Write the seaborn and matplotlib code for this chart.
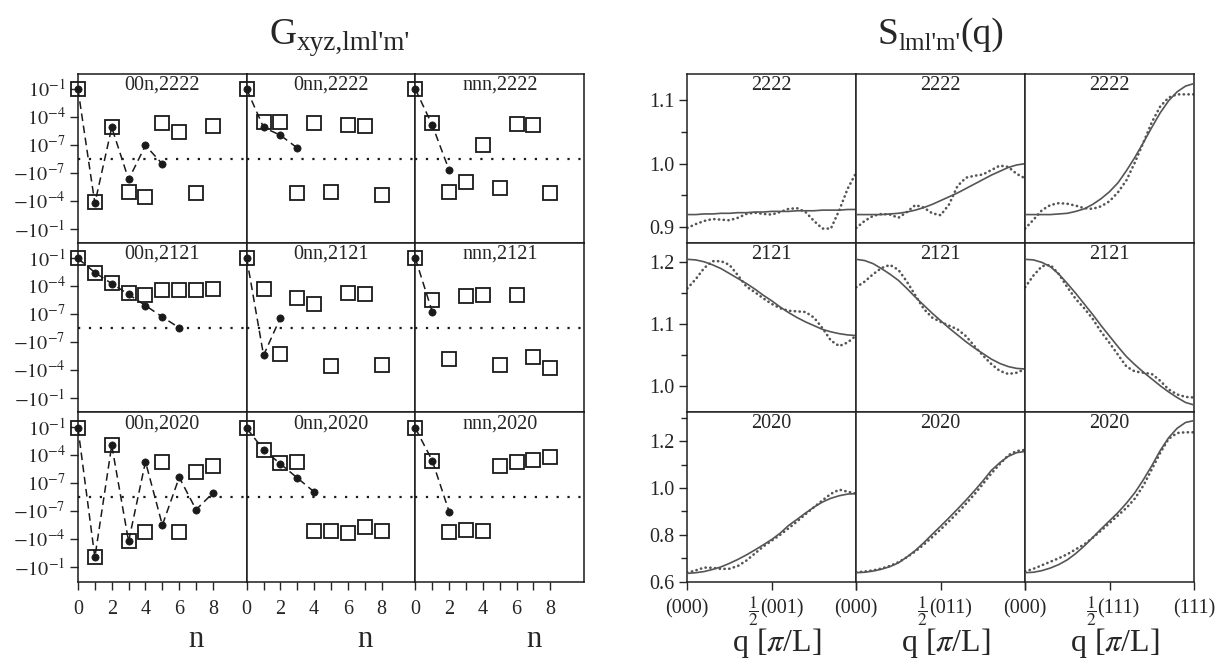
import numpy as np
import matplotlib
matplotlib.use('Agg')
import matplotlib.pyplot as plt
import matplotlib.transforms as mtransforms
import seaborn as sns

sns.set_theme(style='ticks')
plt.rcParams['font.family'] = ['Liberation Serif', 'DejaVu Serif']
plt.rcParams['mathtext.fontset'] = 'stix'
plt.rcParams['axes.linewidth'] = 1.1

# ---------------- data: left block (G values vs n) ----------------
n_vals = [0, 1, 2, 3, 4, 5, 6, 7, 8]
col_names = ['00n', '0nn', 'nnn']
row_names = ['2222', '2121', '2020']

# filled circles (connected by dashed line)
circ_00n_2222 = [8.3e-2, -2.0e-4, 6.9e-6, -5.4e-7, 8.1e-8, -1.2e-8]
circ_0nn_2222 = [8.3e-2, 6.9e-6, 1.0e-6, 4.3e-8]
circ_nnn_2222 = [8.3e-2, 1.2e-5, -5.4e-8]
circ_00n_2121 = [8.3e-2, 2.6e-3, 1.7e-4, 1.2e-5, 7.6e-7, 4.6e-8, 0.0]
circ_0nn_2121 = [8.3e-2, -2.8e-6, 3.9e-8]
circ_nnn_2121 = [8.3e-2, 1.6e-7]
circ_00n_2020 = [7.1e-2, -9.3e-3, 1.1e-3, -1.8e-4, 1.9e-5, -3.2e-6, 4.0e-7, -7.2e-8, 8.6e-9]
circ_0nn_2020 = [7.1e-2, 3.7e-4, 1.1e-5, 3.5e-7, 1.1e-8]
circ_nnn_2020 = [7.1e-2, 2.5e-5, -1.2e-7]

# open squares
sq_00n_2222 = [8.3e-2, -1.4e-4, 8.1e-6, -1.3e-5, -3.9e-5, 1.9e-5, 2.0e-6, -1.4e-5, 1.1e-5]
sq_0nn_2222 = [8.3e-2, 2.4e-5, 2.4e-5, -1.4e-5, 2.2e-5, -1.3e-5, 1.2e-5, 9.5e-6, -2.6e-5]
sq_nnn_2222 = [8.3e-2, 1.9e-5, -1.1e-5, -9.5e-7, 8.9e-8, -4.6e-6, 1.6e-5, 1.3e-5, -1.6e-5]
sq_00n_2121 = [8.3e-2, 2.6e-3, 2.0e-4, 1.9e-5, 1.1e-5, 3.5e-5, 3.3e-5, 3.3e-5, 5.0e-5]
sq_0nn_2121 = [8.3e-2, 5.0e-5, -2.2e-6, 5.5e-6, 1.0e-6, -3.9e-5, 1.5e-5, 1.2e-5, -2.8e-5]
sq_nnn_2121 = [8.3e-2, 2.8e-6, -6.3e-6, 7.6e-6, 1.1e-5, -3.2e-5, 9.5e-6, -4.6e-6, -6.9e-5]
sq_00n_2020 = [7.1e-2, -9.3e-3, 1.1e-3, -1.8e-4, -1.9e-5, 1.6e-5, -1.7e-5, 1.4e-6, 7.1e-6]
sq_0nn_2020 = [7.1e-2, 3.7e-4, 1.4e-5, 1.6e-5, -1.3e-5, -1.3e-5, -2.3e-5, -4.8e-6, -1.3e-5]
sq_nnn_2020 = [7.1e-2, 2.5e-5, -1.9e-5, -1.0e-5, -1.3e-5, 6.3e-6, 1.8e-5, 2.9e-5, 6.0e-5]

G_ytick_vals = [1e-1, 1e-4, 1e-7, -1e-7, -1e-4, -1e-1]
G_ytick_labels = [r'$10^{-1}$', r'$10^{-4}$', r'$10^{-7}$',
                  r'$-10^{-7}$', r'$-10^{-4}$', r'$-10^{-1}$']

# ---------------- data: right block (S(q)) ----------------
q = [0.0, 0.05, 0.1, 0.15, 0.2, 0.25, 0.3, 0.35, 0.4, 0.45, 0.5,
     0.55, 0.6, 0.65, 0.7, 0.75, 0.8, 0.85, 0.9, 0.95, 1.0]

S_solid_2222_001 = [0.920, 0.920, 0.921, 0.921, 0.922, 0.922, 0.923, 0.923, 0.924, 0.924, 0.925,
                    0.925, 0.925, 0.926, 0.926, 0.926, 0.927, 0.927, 0.927, 0.928, 0.928]
S_dot_2222_001 = [0.899, 0.905, 0.910, 0.913, 0.912, 0.911, 0.915, 0.921, 0.923, 0.921, 0.920,
                  0.924, 0.929, 0.930, 0.924, 0.910, 0.898, 0.898, 0.927, 0.961, 0.986]
S_solid_2222_011 = [0.920, 0.920, 0.920, 0.920, 0.921, 0.922, 0.924, 0.927, 0.931, 0.936, 0.942,
                    0.948, 0.954, 0.961, 0.968, 0.975, 0.982, 0.988, 0.994, 0.998, 1.000]
S_dot_2222_011 = [0.899, 0.910, 0.918, 0.921, 0.920, 0.915, 0.924, 0.935, 0.931, 0.922, 0.919,
                  0.936, 0.965, 0.978, 0.981, 0.983, 0.990, 0.997, 0.995, 0.984, 0.977]
S_solid_2222_111 = [0.920, 0.920, 0.920, 0.920, 0.921, 0.922, 0.925, 0.929, 0.936, 0.945, 0.956,
                    0.970, 0.989, 1.010, 1.033, 1.057, 1.080, 1.099, 1.113, 1.122, 1.126]
S_dot_2222_111 = [0.898, 0.912, 0.927, 0.935, 0.938, 0.937, 0.934, 0.930, 0.929, 0.933, 0.941,
                  0.955, 0.974, 1.002, 1.033, 1.065, 1.090, 1.104, 1.109, 1.109, 1.109]

S_solid_2121_001 = [1.204, 1.203, 1.200, 1.195, 1.189, 1.181, 1.173, 1.165, 1.156, 1.146, 1.137,
                    1.127, 1.118, 1.110, 1.103, 1.097, 1.091, 1.087, 1.084, 1.082, 1.081]
S_dot_2121_001 = [1.157, 1.172, 1.190, 1.201, 1.201, 1.195, 1.178, 1.160, 1.151, 1.141, 1.132,
                  1.125, 1.121, 1.120, 1.119, 1.110, 1.093, 1.073, 1.064, 1.070, 1.081]
S_solid_2121_011 = [1.204, 1.202, 1.197, 1.189, 1.180, 1.170, 1.157, 1.143, 1.130, 1.117, 1.105,
                    1.093, 1.082, 1.071, 1.061, 1.052, 1.043, 1.036, 1.031, 1.028, 1.027]
S_dot_2121_011 = [1.159, 1.168, 1.180, 1.190, 1.195, 1.187, 1.168, 1.146, 1.124, 1.110, 1.103,
                  1.097, 1.091, 1.080, 1.064, 1.049, 1.035, 1.024, 1.019, 1.021, 1.027]
S_solid_2121_111 = [1.204, 1.203, 1.199, 1.192, 1.180, 1.165, 1.149, 1.132, 1.115, 1.097, 1.080,
                    1.063, 1.047, 1.034, 1.022, 1.011, 1.000, 0.990, 0.981, 0.973, 0.969]
S_dot_2121_111 = [1.159, 1.178, 1.193, 1.195, 1.180, 1.159, 1.140, 1.125, 1.108, 1.087, 1.069,
                  1.050, 1.031, 1.023, 1.021, 1.019, 1.008, 0.994, 0.986, 0.982, 0.981]

S_solid_2020_001 = [0.635, 0.638, 0.643, 0.652, 0.663, 0.678, 0.695, 0.714, 0.735, 0.757, 0.780,
                    0.807, 0.840, 0.866, 0.893, 0.918, 0.940, 0.956, 0.967, 0.974, 0.976]
S_dot_2020_001 = [0.638, 0.648, 0.660, 0.659, 0.654, 0.655, 0.667, 0.690, 0.720, 0.750, 0.775,
                  0.800, 0.828, 0.857, 0.888, 0.918, 0.947, 0.975, 0.993, 0.984, 0.976]
S_solid_2020_011 = [0.638, 0.640, 0.645, 0.653, 0.664, 0.680, 0.705, 0.733, 0.766, 0.802, 0.837,
                    0.873, 0.910, 0.948, 0.988, 1.030, 1.075, 1.108, 1.135, 1.151, 1.156]
S_dot_2020_011 = [0.640, 0.643, 0.648, 0.656, 0.667, 0.683, 0.704, 0.729, 0.758, 0.790, 0.823,
                  0.858, 0.894, 0.933, 0.973, 1.017, 1.062, 1.102, 1.140, 1.158, 1.163]
S_solid_2020_111 = [0.638, 0.640, 0.647, 0.658, 0.673, 0.693, 0.720, 0.752, 0.788, 0.825, 0.860,
                    0.895, 0.935, 0.980, 1.035, 1.095, 1.160, 1.215, 1.255, 1.280, 1.288]
S_dot_2020_111 = [0.643, 0.655, 0.670, 0.685, 0.700, 0.717, 0.738, 0.759, 0.787, 0.818, 0.850,
                  0.883, 0.915, 0.955, 1.010, 1.080, 1.150, 1.210, 1.235, 1.238, 1.238]

S_ylims = {'2222': (0.875, 1.141), '2121': (0.957, 1.230), '2020': (0.600, 1.323)}
S_major = {'2222': [0.9, 1.0, 1.1], '2121': [1.0, 1.1, 1.2], '2020': [0.6, 0.8, 1.0, 1.2]}
S_minor = {'2222': [0.95, 1.05], '2121': [1.05, 1.15], '2020': [0.7, 0.9, 1.1, 1.3]}
S_ticks = [0.0, 0.5, 1.0]
S_end_labels = [['(000)', '(000)'], ['', '(000)'], ['', '(111)']]
S_half_labels = ['(001)', '(011)', '(111)']

G_circ = {('00n', '2222'): circ_00n_2222, ('0nn', '2222'): circ_0nn_2222, ('nnn', '2222'): circ_nnn_2222,
          ('00n', '2121'): circ_00n_2121, ('0nn', '2121'): circ_0nn_2121, ('nnn', '2121'): circ_nnn_2121,
          ('00n', '2020'): circ_00n_2020, ('0nn', '2020'): circ_0nn_2020, ('nnn', '2020'): circ_nnn_2020}
G_sq = {('00n', '2222'): sq_00n_2222, ('0nn', '2222'): sq_0nn_2222, ('nnn', '2222'): sq_nnn_2222,
        ('00n', '2121'): sq_00n_2121, ('0nn', '2121'): sq_0nn_2121, ('nnn', '2121'): sq_nnn_2121,
        ('00n', '2020'): sq_00n_2020, ('0nn', '2020'): sq_0nn_2020, ('nnn', '2020'): sq_nnn_2020}
S_solid = {('2222', 0): S_solid_2222_001, ('2222', 1): S_solid_2222_011, ('2222', 2): S_solid_2222_111,
           ('2121', 0): S_solid_2121_001, ('2121', 1): S_solid_2121_011, ('2121', 2): S_solid_2121_111,
           ('2020', 0): S_solid_2020_001, ('2020', 1): S_solid_2020_011, ('2020', 2): S_solid_2020_111}
S_dot = {('2222', 0): S_dot_2222_001, ('2222', 1): S_dot_2222_011, ('2222', 2): S_dot_2222_111,
         ('2121', 0): S_dot_2121_001, ('2121', 1): S_dot_2121_011, ('2121', 2): S_dot_2121_111,
         ('2020', 0): S_dot_2020_001, ('2020', 1): S_dot_2020_011, ('2020', 2): S_dot_2020_111}

# ---------------- layout ----------------
W, H = 1224, 671
fig = plt.figure(figsize=(W / 100, H / 100), dpi=100)
fig.patch.set_facecolor('white')


def rect(x0, y0, w, h):
    return [x0 / W, 1 - (y0 + h) / H, w / W, h / H]


left_x = [78.0, 246.7, 415.4]
left_w = 168.7
right_x = [687.3, 856.2, 1025.1]
right_w = 168.9
row_y = [74.0, 243.2, 412.4]
row_h = 169.2

TICK_FS = 14.5
LAB_FS = 14.5
GRAY = '#555555'

for r, rn in enumerate(row_names):
    for c, cn in enumerate(col_names):
        ax = fig.add_axes(rect(left_x[c], row_y[r], left_w, row_h))
        ax.set_yscale('symlog', linthresh=1e-8, linscale=0.45)
        ax.set_xlim(0, 10)
        ax.set_ylim(-3.6, 3.6)
        ax.axhline(0, color='k', lw=1.6, linestyle=(0, (1, 3.9)), zorder=1)
        sq = G_sq[(cn, rn)]
        sns.lineplot(x=n_vals[:len(sq)], y=sq, ax=ax, linestyle='none', marker='s',
                     markersize=9.5, markerfacecolor='none', markeredgecolor='k',
                     markeredgewidth=1.3, color='k', clip_on=False, zorder=3)
        ci = G_circ[(cn, rn)]
        sns.lineplot(x=n_vals[:len(ci)], y=ci, ax=ax, color='k', lw=1.1,
                     linestyle=(0, (5, 3)), marker='o', markersize=5.2,
                     markerfacecolor='k', markeredgecolor='k', markeredgewidth=0.5,
                     clip_on=False, zorder=4)
        ax.text(0.5, 0.99, f'{cn},{rn}', transform=ax.transAxes, ha='center', va='top',
                fontsize=LAB_FS)
        ax.set_xticks(n_vals)
        if r == 2:
            ax.set_xticklabels([str(v) if v % 2 == 0 else '' for v in n_vals], fontsize=TICK_FS)
            ax.tick_params(axis='x', direction='out', length=6, width=1.0, pad=7)
            ax.text(0.70, -0.345, 'n', transform=ax.transAxes, ha='center', va='center',
                    fontsize=22)
        else:
            ax.tick_params(axis='x', bottom=False, labelbottom=False)
        ax.set_yticks(G_ytick_vals)
        ax.yaxis.set_minor_locator(matplotlib.ticker.NullLocator())
        if c == 0:
            ax.set_yticklabels(G_ytick_labels, fontsize=TICK_FS)
            ax.tick_params(axis='y', direction='out', length=6, width=1.0, pad=3)
        else:
            ax.tick_params(axis='y', left=False, labelleft=False)
        ax.set_xlabel('')
        ax.set_ylabel('')
        for s in ax.spines.values():
            s.set_color('k')
            s.set_linewidth(1.1)

LABEL_BASE = -0.19   # baseline of the q tick labels, in axes fraction
for r, rn in enumerate(row_names):
    for c in range(3):
        ax = fig.add_axes(rect(right_x[c], row_y[r], right_w, row_h))
        ax.set_xlim(0, 1)
        ax.set_ylim(*S_ylims[rn])
        sns.lineplot(x=q, y=S_solid[(rn, c)], ax=ax, color=GRAY, lw=1.2, zorder=3)
        sns.lineplot(x=q, y=S_dot[(rn, c)], ax=ax, color=GRAY, lw=1.9,
                     linestyle=(0, (0.1, 1.7)), dash_capstyle='round', zorder=2)
        ax.text(0.5, 0.99, rn, transform=ax.transAxes, ha='center', va='top',
                fontsize=LAB_FS)
        ax.set_yticks(S_major[rn])
        ax.set_yticks(S_minor[rn], minor=True)
        if c == 0:
            ax.set_yticklabels([f'{v:.1f}' for v in S_major[rn]], fontsize=TICK_FS)
            ax.tick_params(axis='y', which='major', direction='out', length=6, width=1.0, pad=3)
            ax.tick_params(axis='y', which='minor', direction='out', length=4, width=1.0)
        else:
            ax.tick_params(axis='y', which='both', left=False, labelleft=False)
        ax.set_xticks(S_ticks)
        ax.set_xticklabels([])
        if r == 2:
            ax.tick_params(axis='x', direction='out', length=6, width=1.0)
            tr = ax.get_xaxis_transform()
            for xv, lab in zip([S_ticks[0], S_ticks[2]], S_end_labels[c]):
                if lab:
                    ax.text(xv, LABEL_BASE, lab, transform=tr, ha='center', va='baseline',
                            fontsize=TICK_FS, clip_on=False)
            tr_l = mtransforms.offset_copy(tr, fig=fig, x=-12, y=0, units='dots')
            tr_f = mtransforms.offset_copy(tr, fig=fig, x=-13, y=-1, units='dots')
            ax.text(S_ticks[1], LABEL_BASE, S_half_labels[c], transform=tr_l, ha='left',
                    va='baseline', fontsize=TICK_FS, clip_on=False)
            ax.text(S_ticks[1], LABEL_BASE, r'$\dfrac{1}{2}$', transform=tr_f, ha='right',
                    va='baseline', fontsize=12.5, clip_on=False)
            ax.text(0.53, -0.365, r'q [$\pi$/L]', transform=ax.transAxes, ha='center',
                    va='center', fontsize=23)
        else:
            ax.tick_params(axis='x', bottom=False, labelbottom=False)
        ax.set_xlabel('')
        ax.set_ylabel('')
        for s in ax.spines.values():
            s.set_color('#222222')
            s.set_linewidth(1.1)


# titles built from pieces (main letter + subscript) so apostrophes stay straight
def compound_title(cx, base_y, pieces):
    renderer = fig.canvas.get_renderer()
    texts = []
    total = 0.0
    for s, fs, dy in pieces:
        t = fig.text(0, 0, s, fontsize=fs, ha='left', va='baseline')
        w = t.get_window_extent(renderer=renderer).width
        texts.append((t, w, dy))
        total += w
    x = cx - total / 2
    for t, w, dy in texts:
        t.set_position((x / W, 1 - (base_y + dy) / H))
        x += w


compound_title(340, 44, [('G', 27, 0), ("xyz,lml'm'", 19.5, 6)])
compound_title(941, 44, [('S', 27, 0), ("lml'm'", 18, 6), ('(q)', 27, 0)])

fig.savefig('out.png', dpi=100, facecolor='white')
